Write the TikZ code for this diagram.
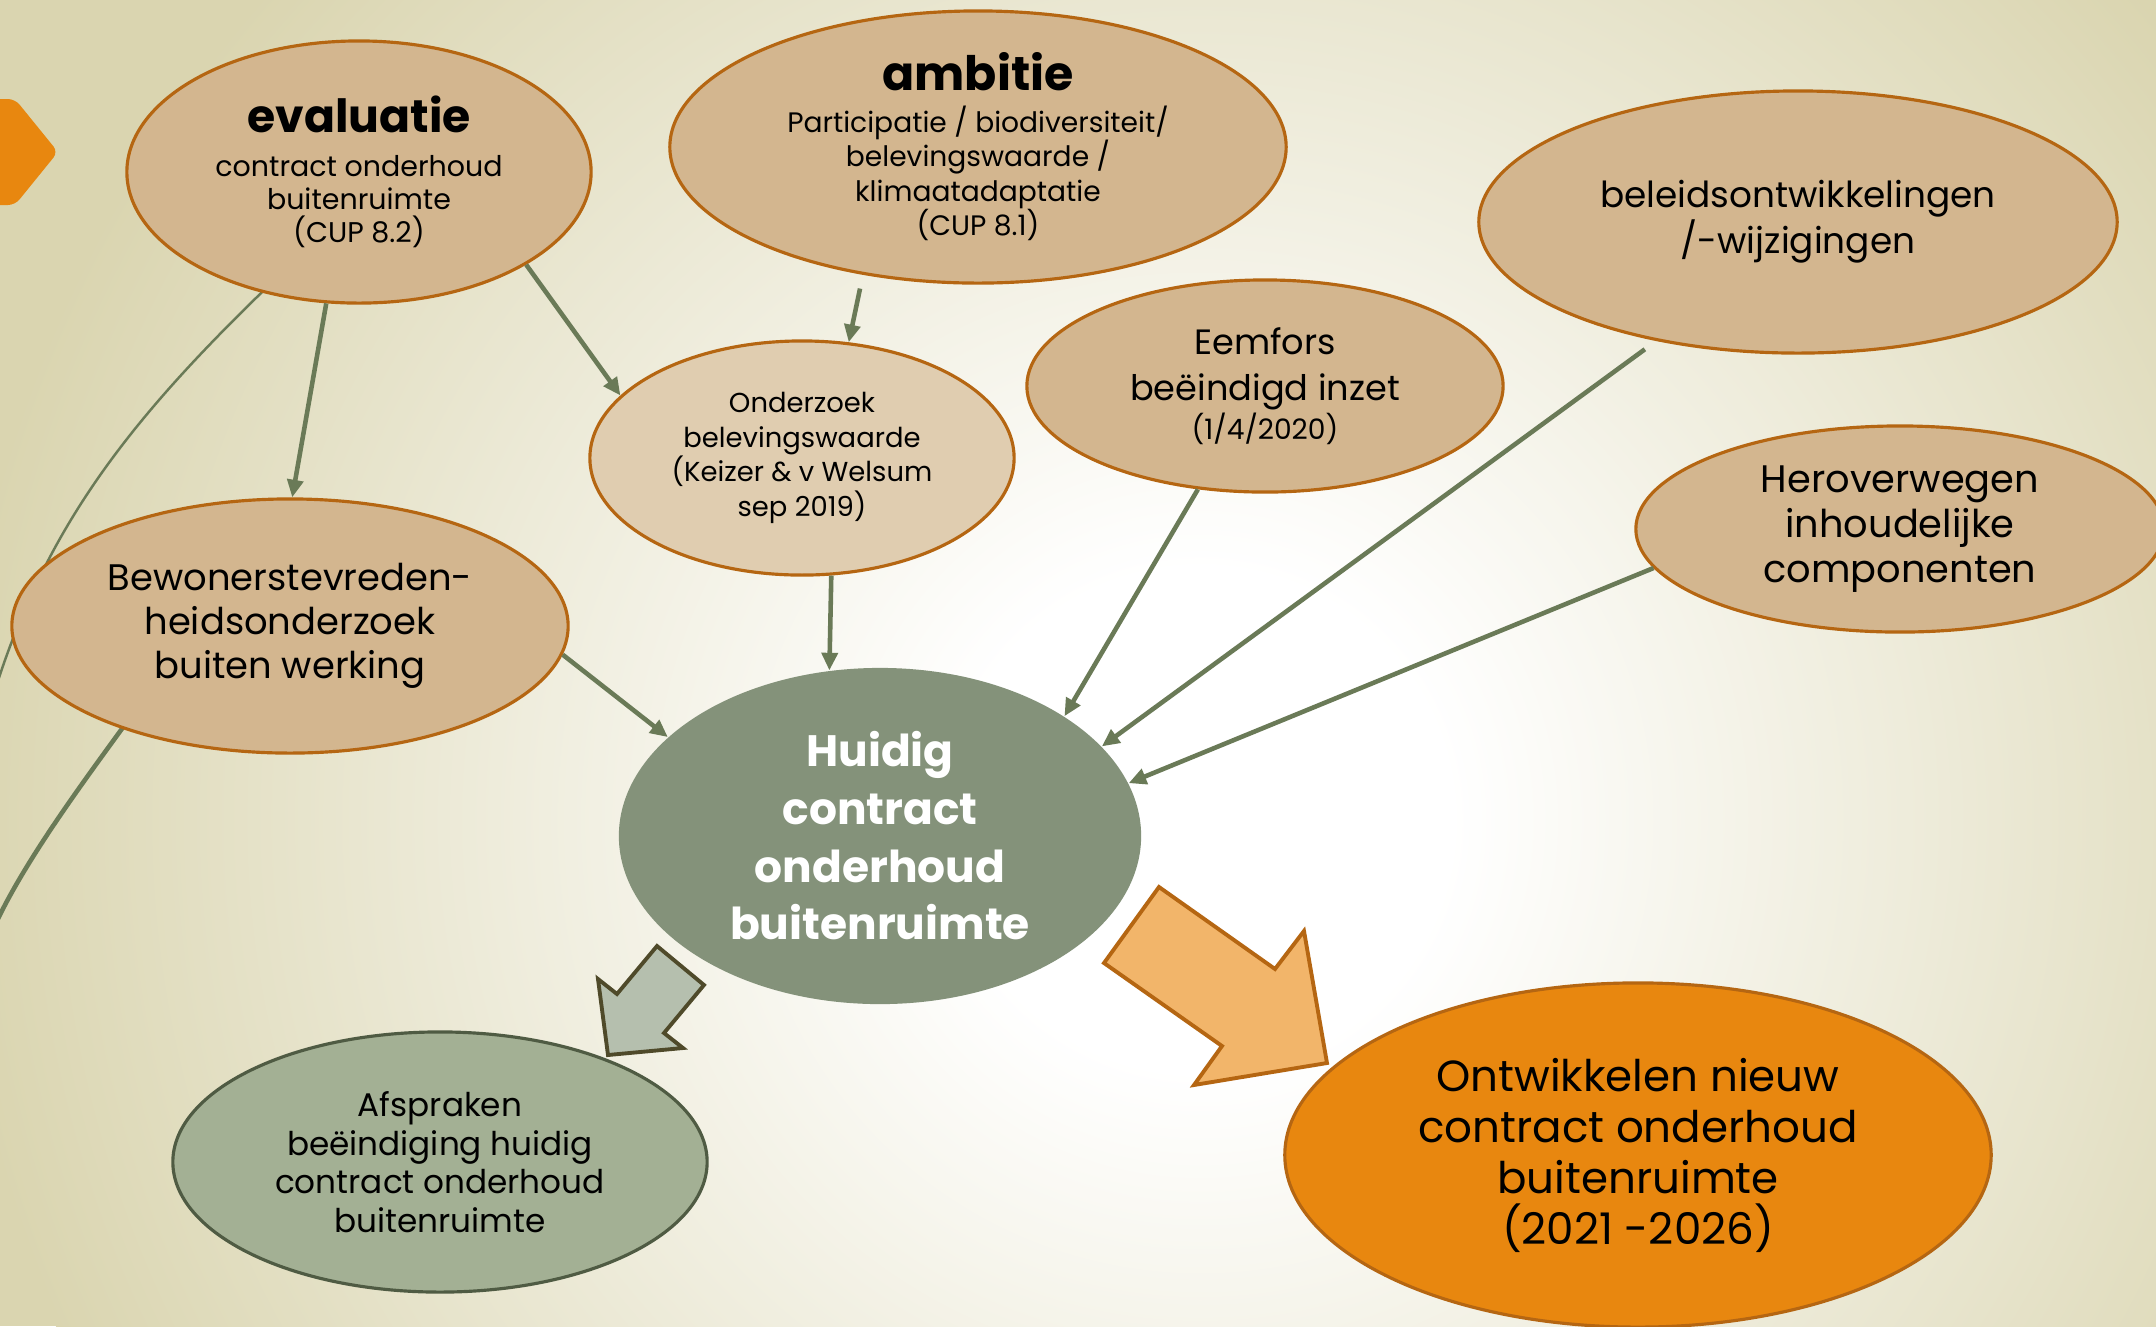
\documentclass[tikz,border=0pt]{standalone}
\usepackage{fontspec}
\setmainfont{Poppins}
\usepackage{xcolor}
\usetikzlibrary{arrows.meta,shapes.geometric}
\definecolor{bgkhaki}{HTML}{DAD5B0}
\definecolor{tanfill}{HTML}{D3B68F}
\definecolor{tanline}{HTML}{B56612}
\definecolor{lighttan}{HTML}{E0CDB0}
\definecolor{coregreen}{HTML}{84927A}
\definecolor{sagefill}{HTML}{A3B094}
\definecolor{sageline}{HTML}{4F5B43}
\definecolor{orangefill}{HTML}{E8870F}
\definecolor{peach}{HTML}{F2B56A}
\definecolor{greyfill}{HTML}{B5BFAE}
\definecolor{greyline}{HTML}{4F4A2A}
\definecolor{conngreen}{HTML}{6A7A57}
\pgfdeclareradialshading{bgglow}{\pgfpoint{0bp}{0bp}}{color(0bp)=(white); color(5bp)=(white); color(25bp)=(bgkhaki); color(50bp)=(bgkhaki)}

\begin{document}
\begin{tikzpicture}[x=0.01cm, y=-0.01cm,
  bubble/.style={ellipse, draw=tanline, fill=tanfill, line width=0.9pt,
    inner sep=0pt, align=center, text=black},
  study/.style={bubble, fill=lighttan},
  core/.style={ellipse, fill=coregreen, inner sep=0pt, align=center,
    text=white, font=\fontsize{12.5}{16.4}\selectfont\bfseries},
  outcome/.style={bubble, fill=sagefill, draw=sageline},
  future/.style={bubble, fill=orangefill, draw=tanline},
  conn/.style={-{Triangle[length=5pt,width=4.5pt]}, line width=1.3pt, draw=conngreen},
  deco/.style={draw=conngreen},
]
% Background
\clip (0,0) rectangle (2156,1326);
\fill[bgkhaki] (0,0) rectangle (2156,1326);
\shade[shading=bgglow] (1200,820) circle[radius=12.5cm];

% Template decoration on the left
\fill[orangefill, rounded corners=2pt] (-10,99) -- (15,99) -- (58,152) -- (15,205) -- (-10,205) -- cycle;
\draw[deco, line width=0.7pt] (285,270) .. controls (136,412) and (49,519) .. (-5,690);
\draw[deco, line width=1.3pt] (150,690) .. controls (100,760) and (30,850) .. (-5,925);

% Input bubbles
\node[bubble, minimum width=4.64cm, minimum height=2.62cm,
  font=\fontsize{8.1}{9.4}\selectfont] (eval) at (359,172)
  {{\fontsize{13}{15}\selectfont\bfseries evaluatie}\\[3pt]
   contract onderhoud\\buitenruimte\\(CUP 8.2)};
\node[bubble, minimum width=6.16cm, minimum height=2.72cm,
  font=\fontsize{8}{9.8}\selectfont] (ambitie) at (978,147)
  {{\fontsize{13.5}{15}\selectfont\bfseries ambitie}\\[2pt]
   Participatie / biodiversiteit/\\belevingswaarde /\\klimaatadaptatie\\(CUP 8.1)};
\node[bubble, minimum width=6.38cm, minimum height=2.62cm,
  font=\fontsize{10.2}{13}\selectfont] (beleid) at (1798,222)
  {beleidsontwikkelingen\\/-wijzigingen};
\node[study, minimum width=4.24cm, minimum height=2.34cm,
  font=\fontsize{7.8}{9.8}\selectfont] (onder) at (802,458)
  {Onderzoek\\belevingswaarde\\(Keizer \& v Welsum\\sep 2019)};
\node[bubble, minimum width=4.76cm, minimum height=2.12cm,
  font=\fontsize{10}{13}\selectfont] (eemfors) at (1265,386)
  {Eemfors\\beëindigd inzet\\[-2pt]{\fontsize{8}{10}\selectfont (1/4/2020)}};
\node[bubble, minimum width=5.28cm, minimum height=2.06cm,
  font=\fontsize{10.9}{12.7}\selectfont] (herover) at (1900,529)
  {Heroverwegen\\inhoudelijke\\componenten};
\node[bubble, minimum width=5.56cm, minimum height=2.54cm,
  font=\fontsize{10.5}{12.5}\selectfont] (bewoner) at (290,626)
  {Bewonerstevreden-\\heidsonderzoek\\buiten werking};

% Current contract
\node[core, minimum width=5.22cm, minimum height=3.36cm] (huidig) at (880,836)
  {Huidig\\contract\\onderhoud\\buitenruimte};

% Outcomes
\node[outcome, minimum width=5.34cm, minimum height=2.60cm,
  font=\fontsize{9.3}{11}\selectfont] (afspraken) at (440,1162)
  {Afspraken\\beëindiging huidig\\contract onderhoud\\buitenruimte};
\node[future, minimum width=7.06cm, minimum height=3.44cm,
  font=\fontsize{12.4}{14.5}\selectfont] (ontw) at (1638,1155)
  {Ontwikkelen nieuw\\contract onderhoud\\buitenruimte\\(2021 -2026)};

% Connectors
\draw[conn] (eval.-29) -- (onder.161);
\draw[conn] (eval.-104) -- (bewoner.89);
\draw[conn, shorten <=4pt] (ambitie.-132) -- (onder.68);
\draw[conn] (onder.-76) -- (huidig.107);
\draw[conn] (bewoner.-6) -- (huidig.155);
\draw[conn] (eemfors.-123) -- (huidig.33);
\draw[conn, shorten <=4pt] (beleid.-140) -- (huidig.22);
\draw[conn] (herover.-171) -- (huidig.12);

% Block arrows
\draw[greyline, fill=greyfill, line width=1.1pt, line join=miter]
  (657,946) -- (704,985) -- (664,1033) -- (683,1048) -- (608,1055)
  -- (598,979) -- (617,994) -- cycle;
\draw[tanline, fill=peach, line width=1.1pt, line join=miter]
  (1159,887) -- (1275,969) -- (1304,931) -- (1327,1063) -- (1194,1085)
  -- (1222,1046) -- (1104,963) -- cycle;
\end{tikzpicture}
\end{document}
